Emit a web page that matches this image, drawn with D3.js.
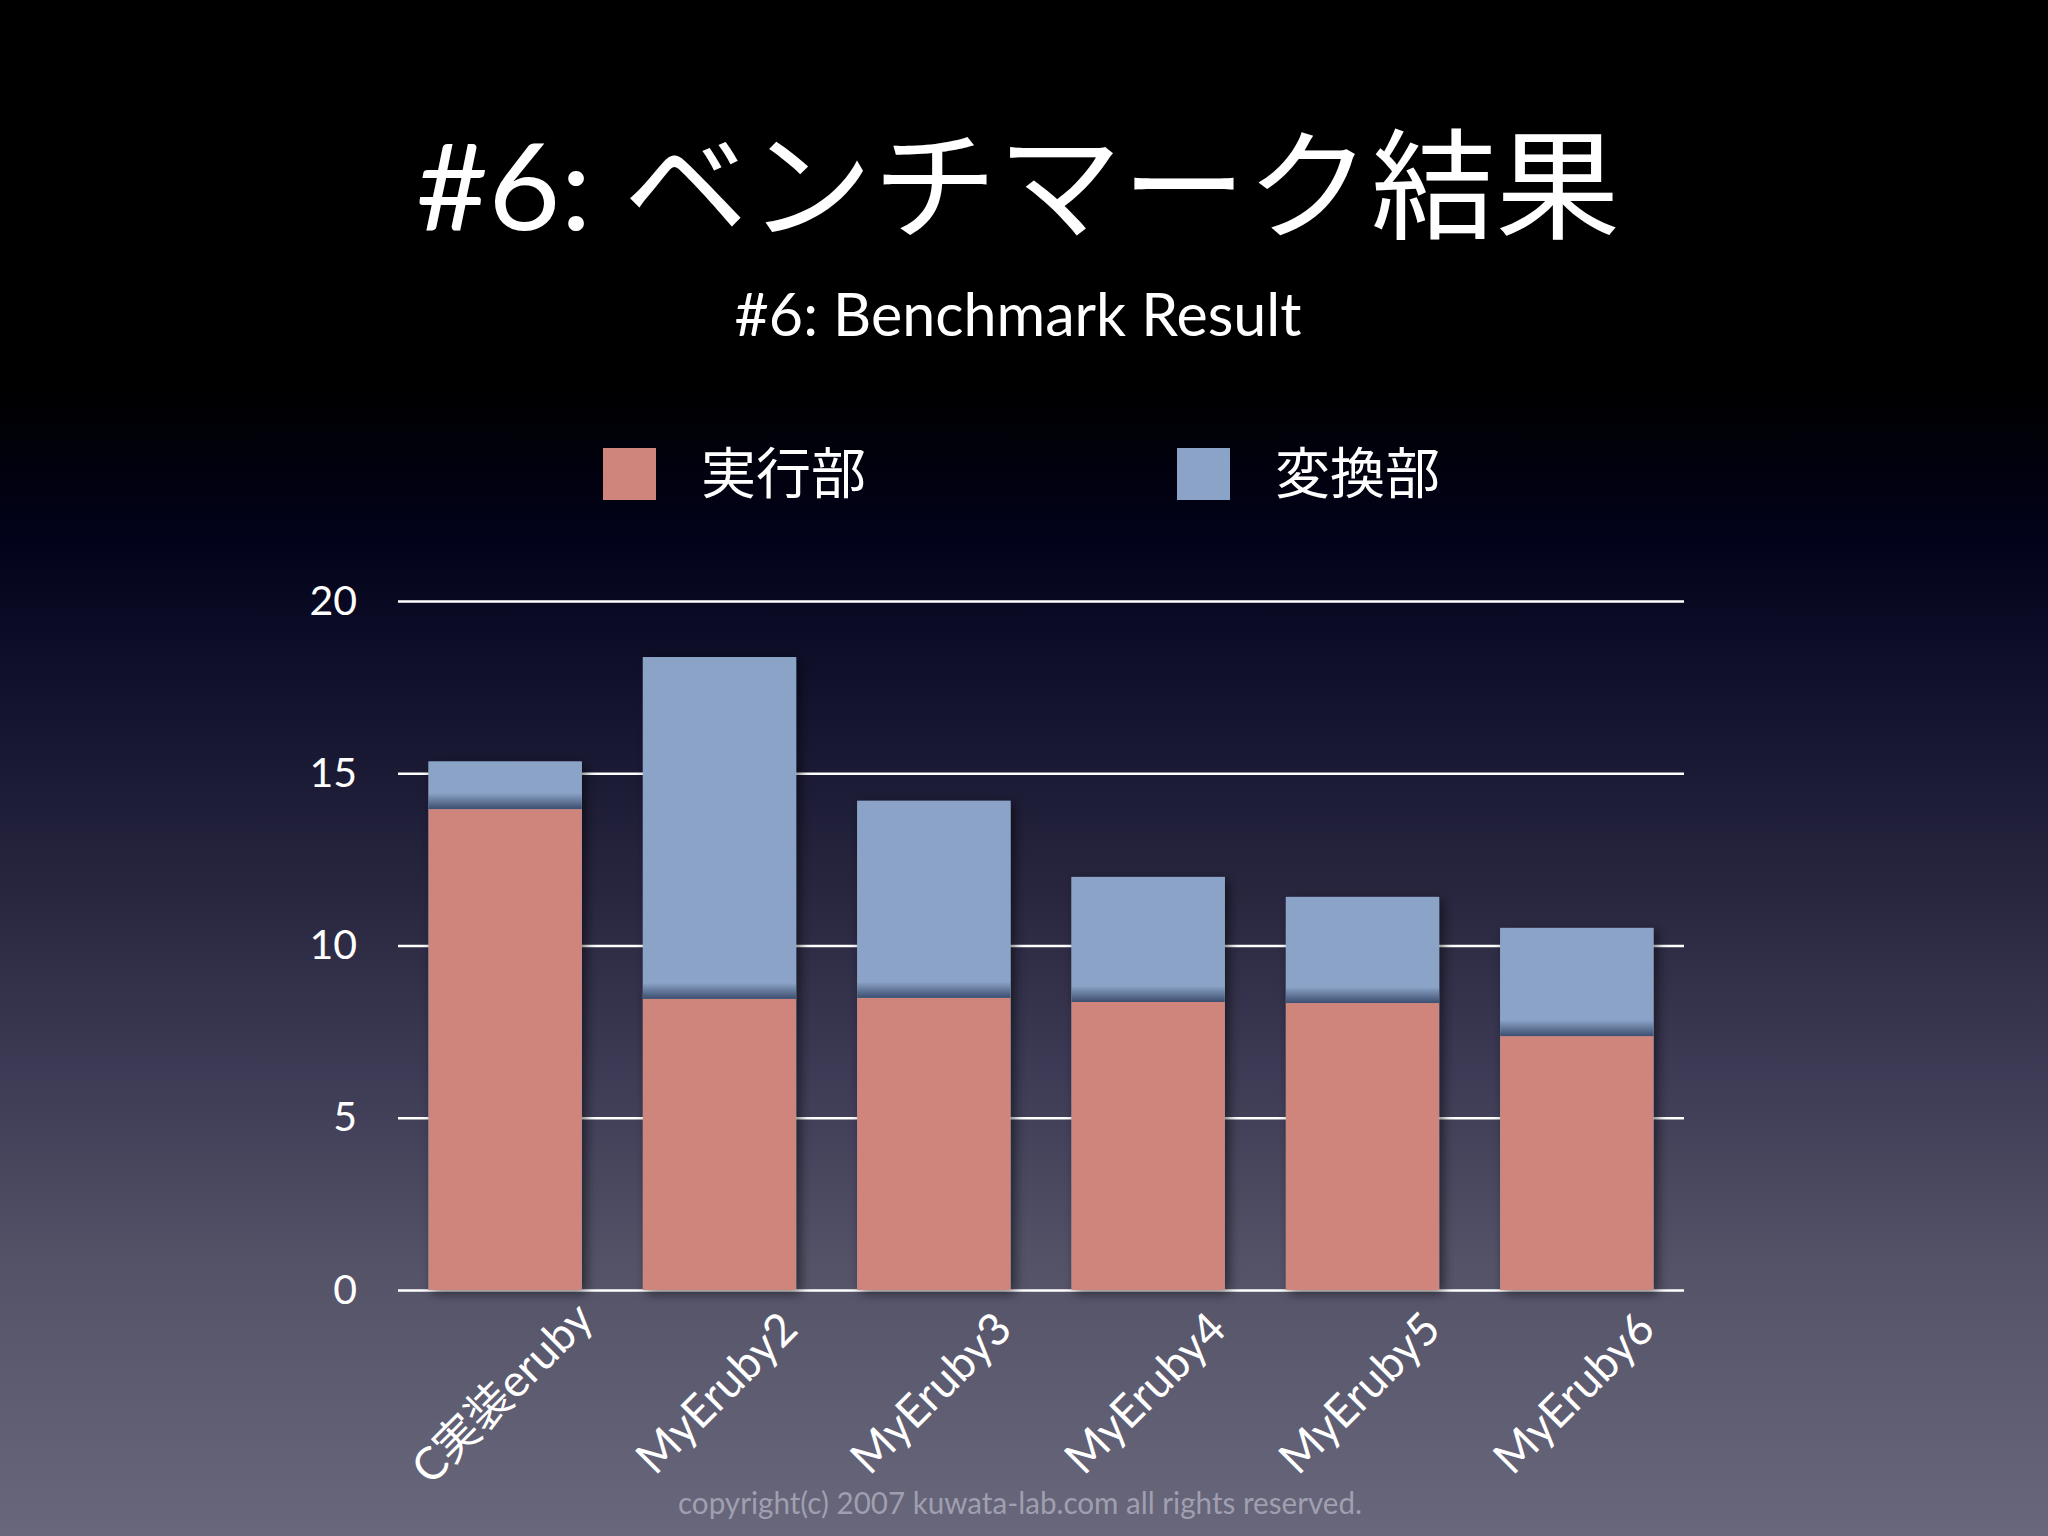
<!DOCTYPE html>
<html>
<head>
<meta charset="utf-8">
<script src="https://cdn.jsdelivr.net/npm/d3@7"></script>
<style>
  html, body { margin: 0; padding: 0; background: #000; }
  svg { display: block; }
</style>
</head>
<body>
<svg id="chart"></svg>
<script>
// data
const categories = ["C実装eruby", "MyEruby2", "MyEruby3", "MyEruby4", "MyEruby5", "MyEruby6"];
const execValues = [13.96, 8.45, 8.48, 8.36, 8.33, 7.37];   // 実行部
const convValues = [1.38, 9.92, 5.72, 3.63, 3.08, 3.14];    // 変換部
const seriesNames = ["実行部", "変換部"];
const yTicks = [0, 5, 10, 15, 20];

const W = 2048, H = 1536;
const latin = "Lato, 'Noto Sans CJK JP', sans-serif";
const cjk = "'Noto Sans CJK JP', Lato, sans-serif";
const colors = { exec: "#cf857c", conv: "#8aa3c7" };

const svg = d3.select("#chart").attr("width", W).attr("height", H);
const defs = svg.append("defs");

// background gradient, black on top fading to grey-violet
const bg = defs.append("linearGradient").attr("id", "bg")
  .attr("x1", 0).attr("y1", 0).attr("x2", 0).attr("y2", 1);
[[0, "#000000"], [0.25, "#000000"], [0.35, "#02021a"], [0.45, "#12122e"],
 [0.58, "#28263f"], [0.7, "#3d3b55"], [0.82, "#535267"], [1, "#68677c"]]
  .forEach(([o, c]) => bg.append("stop").attr("offset", o).attr("stop-color", c));

const shadow = defs.append("filter").attr("id", "shadow")
  .attr("x", "-20%").attr("y", "-20%").attr("width", "140%").attr("height", "140%");
shadow.append("feDropShadow").attr("dx", 4).attr("dy", 3).attr("stdDeviation", 6)
  .attr("flood-color", "#000").attr("flood-opacity", 0.55);

const inner = defs.append("linearGradient").attr("id", "innerShade")
  .attr("x1", 0).attr("y1", 0).attr("x2", 0).attr("y2", 1);
inner.append("stop").attr("offset", 0).attr("stop-color", "#1c2a4a").attr("stop-opacity", 0);
inner.append("stop").attr("offset", 1).attr("stop-color", "#1c2a4a").attr("stop-opacity", 0.7);

svg.append("rect").attr("width", W).attr("height", H).attr("fill", "url(#bg)");

// titles
svg.append("text")
  .attr("x", 1018).attr("y", 230)
  .attr("text-anchor", "middle")
  .attr("font-family", latin).attr("font-size", 120)
  .attr("fill", "#fff")
  .attr("textLength", 1204).attr("lengthAdjust", "spacingAndGlyphs")
  .text("#6: ベンチマーク結果");

svg.append("text")
  .attr("x", 1018).attr("y", 336)
  .attr("text-anchor", "middle")
  .attr("font-family", latin).attr("font-size", 60)
  .attr("fill", "#fff")
  .attr("textLength", 567).attr("lengthAdjust", "spacingAndGlyphs")
  .text("#6: Benchmark Result");

// legend
const legend = svg.append("g");
const legendX = [603, 1177];
seriesNames.forEach((name, i) => {
  legend.append("rect")
    .attr("x", legendX[i]).attr("y", 448).attr("width", 53).attr("height", 52)
    .attr("fill", i === 0 ? colors.exec : colors.conv);
  legend.append("text")
    .attr("x", legendX[i] + 98).attr("y", 469)
    .attr("dominant-baseline", "central")
    .attr("font-family", cjk).attr("font-size", 55)
    .attr("fill", "#fff")
    .text(name);
});

// scales
const x = d3.scaleBand()
  .domain(categories)
  .range([398, 1684])
  .paddingInner(0.285)
  .paddingOuter(0.1425);

const y = d3.scaleLinear()
  .domain([0, 20])
  .range([1290, 601]);

// gridlines + y labels
const yAxis = svg.append("g")
  .attr("transform", "translate(398,0)")
  .call(d3.axisLeft(y).tickValues(yTicks).tickSize(-(1684 - 398)).tickPadding(41));
yAxis.select(".domain").remove();
yAxis.selectAll(".tick line").attr("stroke", "#fff").attr("stroke-width", 2.5);
yAxis.selectAll(".tick text")
  .attr("fill", "#fff").attr("font-family", latin).attr("font-size", 41);

// stacked bars
const table = categories.map((c, i) => ({ cat: c, exec: execValues[i], conv: convValues[i] }));
const stacked = d3.stack().keys(["exec", "conv"])(table);

const bars = svg.append("g");
bars.selectAll("rect.total")
  .data(table)
  .join("rect")
  .attr("class", "total")
  .attr("x", d => x(d.cat))
  .attr("y", d => y(d.exec + d.conv))
  .attr("width", x.bandwidth())
  .attr("height", d => y(0) - y(d.exec + d.conv))
  .attr("fill", colors.conv)
  .attr("filter", "url(#shadow)");

stacked.forEach(layer => {
  bars.append("g")
    .selectAll("rect")
    .data(layer)
    .join("rect")
    .attr("x", d => x(d.data.cat))
    .attr("y", d => y(d[1]))
    .attr("width", x.bandwidth())
    .attr("height", d => y(d[0]) - y(d[1]))
    .attr("fill", colors[layer.key]);
});

// dark edge where the blue block sits on the red one
bars.append("g")
  .selectAll("rect")
  .data(stacked[1])
  .join("rect")
  .attr("x", d => x(d.data.cat))
  .attr("y", d => y(d[0]) - 16)
  .attr("width", x.bandwidth())
  .attr("height", 16)
  .attr("fill", "url(#innerShade)");

// x labels, rotated
svg.append("g")
  .selectAll("text")
  .data(categories)
  .join("text")
  .attr("transform", d => `translate(${x(d) + x.bandwidth() / 2 + 8},1404) rotate(-45)`)
  .attr("text-anchor", "middle")
  .attr("font-family", latin).attr("font-size", 45)
  .attr("fill", "#fff")
  .text(d => d);

// footer
svg.append("text")
  .attr("x", 1020).attr("y", 1514)
  .attr("text-anchor", "middle")
  .attr("font-family", latin).attr("font-size", 31)
  .attr("fill", "#a09fb0")
  .attr("textLength", 684).attr("lengthAdjust", "spacingAndGlyphs")
  .text("copyright(c) 2007 kuwata-lab.com all rights reserved.");
</script>
</body>
</html>
